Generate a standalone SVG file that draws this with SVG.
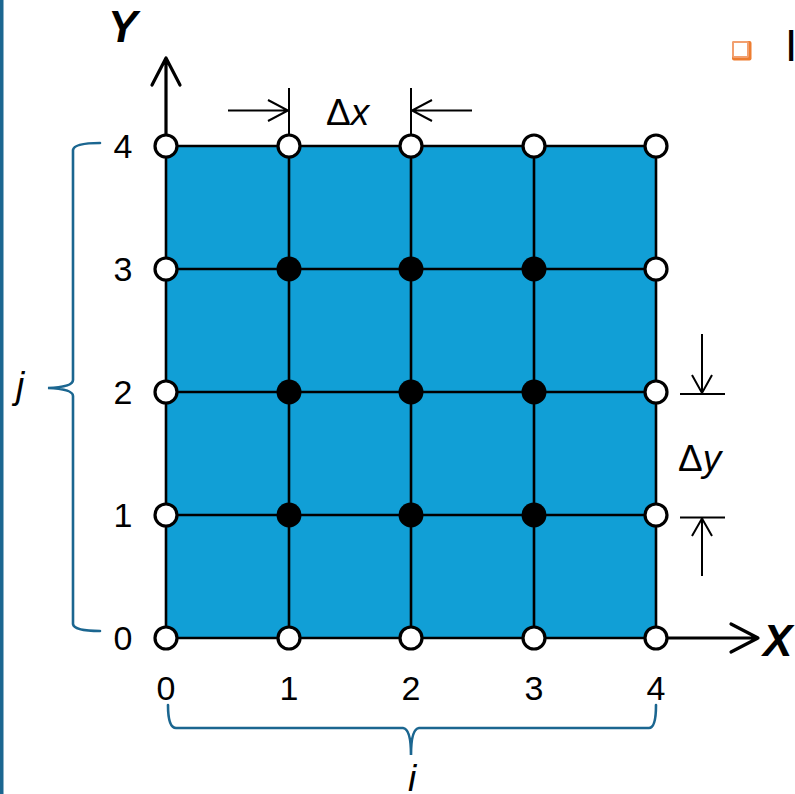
<svg xmlns="http://www.w3.org/2000/svg" width="795" height="794" viewBox="0 0 795 794">
<style>
.grid{stroke:#000;stroke-width:2.6;fill:none}
.ax{stroke:#000;stroke-width:3.2;fill:none;stroke-linecap:round;stroke-linejoin:round}
.dim{stroke:#000;stroke-width:2;fill:none}
.open{fill:#fff;stroke:#000;stroke-width:3.2}
.full{fill:#000}
.brace{stroke:#1B6690;stroke-width:2.6;fill:none;stroke-linecap:round}
.num{font-family:"Liberation Sans",Arial,sans-serif;font-size:34px;fill:#000;text-anchor:middle}
.lbl{font-family:"Liberation Sans",Arial,sans-serif;font-size:37px;fill:#000}
.axl{font-family:"Liberation Sans",Arial,sans-serif;font-size:44px;font-weight:bold;font-style:italic;fill:#000}
</style>
<rect x="0" y="0" width="3.5" height="794" fill="#1B6690"/>
<g id="bullet">
<rect x="732" y="41" width="19.5" height="19.5" rx="2" fill="#ED7D31"/>
<rect x="732" y="41" width="17" height="17" rx="2" fill="#F2A070"/>
<rect x="734" y="43" width="13" height="13" fill="#fff"/>
<text x="785" y="61" style="font-family:'Liberation Sans',Arial,sans-serif;font-size:44px;fill:#000">I</text>
</g>
<g id="mesh">
<rect x="166" y="146" width="490" height="492" fill="#119FD6"/>
<path class="grid" d="M166,146H656M166,269H656M166,392H656M166,515H656M166,638H656M166,146V638M289,146V638M411,146V638M534,146V638M656,146V638"/>
</g>
<g id="connectors">
<path class="ax" d="M166,140V58M152,85L166,58L180,85"/>
<path class="ax" d="M666,638H758M731,624L758,638L731,652"/>
<path class="dim" d="M289,88V135M411,88V135M228,110.5H288M268,100L288,110.5L268,121M472,110.5H412M432,100L412,110.5L432,121"/>
<path class="dim" d="M680,394H725M680,517.5H725M702,334V393M692,375L702,393L712,375M702,576V518.5M692,536L702,518.5L712,536"/>
</g>
<g id="nodes">
<circle class="open" cx="166" cy="146" r="11"/><circle class="open" cx="289" cy="146" r="11"/><circle class="open" cx="411" cy="146" r="11"/><circle class="open" cx="534" cy="146" r="11"/><circle class="open" cx="656" cy="146" r="11"/>
<circle class="open" cx="166" cy="269" r="11"/><circle class="full" cx="289" cy="269" r="12.5"/><circle class="full" cx="411" cy="269" r="12.5"/><circle class="full" cx="534" cy="269" r="12.5"/><circle class="open" cx="656" cy="269" r="11"/>
<circle class="open" cx="166" cy="392" r="11"/><circle class="full" cx="289" cy="392" r="12.5"/><circle class="full" cx="411" cy="392" r="12.5"/><circle class="full" cx="534" cy="392" r="12.5"/><circle class="open" cx="656" cy="392" r="11"/>
<circle class="open" cx="166" cy="515" r="11"/><circle class="full" cx="289" cy="515" r="12.5"/><circle class="full" cx="411" cy="515" r="12.5"/><circle class="full" cx="534" cy="515" r="12.5"/><circle class="open" cx="656" cy="515" r="11"/>
<circle class="open" cx="166" cy="638" r="11"/><circle class="open" cx="289" cy="638" r="11"/><circle class="open" cx="411" cy="638" r="11"/><circle class="open" cx="534" cy="638" r="11"/><circle class="open" cx="656" cy="638" r="11"/>
</g>
<g id="labels">
<text class="axl" x="108" y="42">Y</text>
<text class="axl" x="763" y="656">X</text>
<text class="lbl" x="326" y="125">Δ<tspan font-style="italic">x</tspan></text>
<text class="lbl" x="678" y="471">Δ<tspan font-style="italic">y</tspan></text>
<text class="num" x="123" y="158">4</text>
<text class="num" x="123" y="281">3</text>
<text class="num" x="123" y="404">2</text>
<text class="num" x="123" y="527">1</text>
<text class="num" x="123" y="650">0</text>
<text class="num" x="166" y="700">0</text>
<text class="num" x="289" y="700">1</text>
<text class="num" x="411" y="700">2</text>
<text class="num" x="534" y="700">3</text>
<text class="num" x="656" y="700">4</text>
</g>
<g id="braces">
<path class="brace" d="M100,143Q74,143 73,150V380Q73,387 48,388Q73,389 73,396V624Q74,631 100,631"/>
<path class="brace" d="M168,705Q168,728 176,728H403Q411,729 411,755Q411,729 419,728H649Q656,728 656,705"/>
<text class="lbl" x="20" y="398" text-anchor="middle" font-style="italic">j</text>
<text class="lbl" x="412" y="791" text-anchor="middle" font-style="italic">i</text>
</g>
</svg>
